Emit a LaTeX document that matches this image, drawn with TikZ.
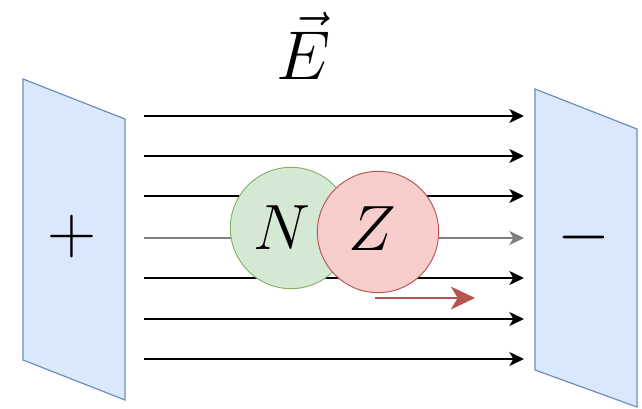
\documentclass[tikz,border=0pt]{standalone}
\usetikzlibrary{arrows.meta}
\definecolor{plateFill}{HTML}{DAE8FC}
\definecolor{plateLine}{HTML}{6C8EBF}
\definecolor{nFill}{HTML}{D5E8D4}
\definecolor{nLine}{HTML}{82B366}
\definecolor{zFill}{HTML}{F8CECC}
\definecolor{zLine}{HTML}{B85450}
\definecolor{midGray}{HTML}{808080}
\begin{document}
\begin{tikzpicture}[x=0.75pt,y=-0.75pt,
  plate/.style={fill=plateFill,draw=plateLine,line width=0.9pt,line join=miter},
  fieldline/.style={draw=black,line width=1.1pt,-{Stealth[length=11pt,width=10.5pt,inset=3pt]}},
  midline/.style={fieldline,draw=midGray},
  particle/.style={circle,minimum size=91pt,inner sep=0pt,line width=0.7pt},
  bigmath/.style={inner sep=0pt,font=\Huge,scale=1.93},
  sign/.style={inner sep=0pt,font=\Huge,scale=2.05},
  motion/.style={draw=zLine,line width=2.2pt,-{Stealth[length=18pt,width=17pt,inset=5pt]}}]
\useasboundingbox (0,0) rectangle (642,409);
% plates
\path[plate] (23,79) -- (125,119) -- (125,400) -- (23,360) -- cycle;
\path[plate] (535,89) -- (637,129) -- (637,407) -- (535,370) -- cycle;
\node[sign] (plus) at (72,237) {$+$};
\node[sign] (minus) at (584,237) {$-$};
% field lines
\foreach \i/\y in {1/116,2/156,3/196,5/278,6/319,7/359}{
  \coordinate (s\i) at (144,\y);
  \coordinate (e\i) at (524,\y);
  \draw[fieldline] (s\i) -- (e\i);
}
\coordinate (s4) at (144,238);
\coordinate (e4) at (524,238);
\draw[midline] (s4) -- (e4);
% particles
\node[particle,fill=nFill,draw=nLine] (ncirc) at (291,228) {};
\node[particle,fill=zFill,draw=zLine] (zcirc) at (378,232) {};
\node[bigmath] (nlab) at (282,228) {$N$};
\node[bigmath] (zlab) at (372,229) {$Z$};
% motion arrow
\coordinate (m1) at (375,298);
\coordinate (m2) at (475,298);
\draw[motion] (m1) -- (m2);
% field label
\node[bigmath,scale=1.08] (elab) at (304,46) {$\vec{E}$};
\end{tikzpicture}
\end{document}
